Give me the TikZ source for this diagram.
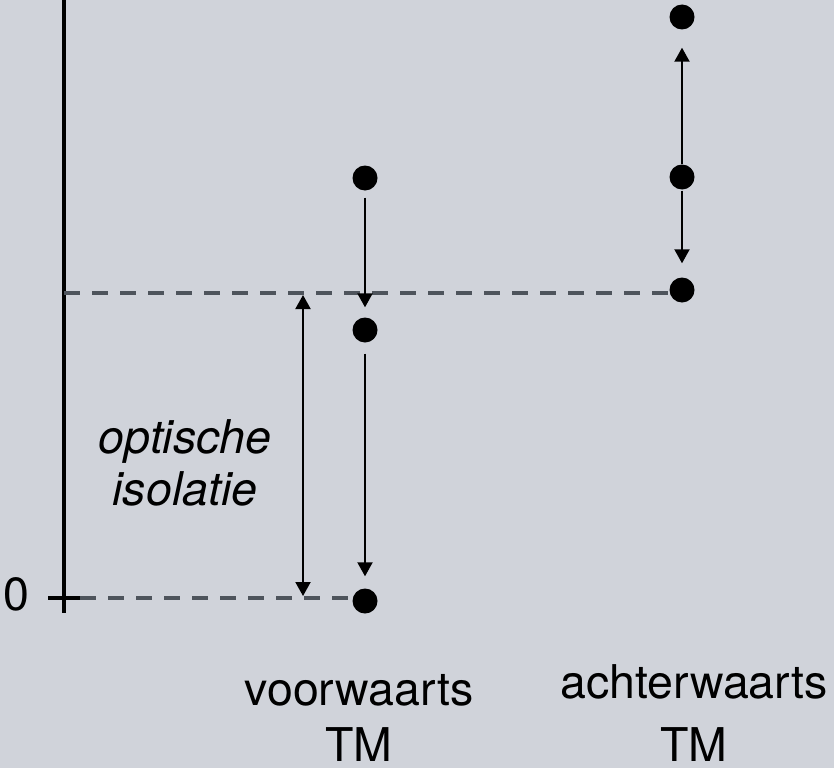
\documentclass[tikz,border=0pt]{standalone}
\usepackage{fontspec}
\setmainfont{TeX Gyre Heros}
\usetikzlibrary{arrows.meta}
\definecolor{bgcol}{RGB}{208,211,218}
\definecolor{dashcol}{RGB}{78,84,92}
\tikzset{
  dot/.style={circle, fill=black, minimum size=25pt, inner sep=0pt},
  lbl/.style={anchor=base, inner sep=0pt, font=\fontsize{46.5}{50}\selectfont},
  ilbl/.style={lbl, font=\fontsize{46.5}{50}\selectfont\itshape},
  arr/.style={line width=2pt, -{Triangle[width=15pt,length=14pt]}},
  biarr/.style={line width=2pt, {Triangle[width=15pt,length=14pt]}-{Triangle[width=15pt,length=14pt]}},
  level/.style={draw=dashcol, line width=4pt, dash pattern=on 16pt off 12pt},
  axisline/.style={line width=4pt}
}
\begin{document}
\begin{tikzpicture}[x=1pt, y=-1pt]
  % canvas
  \fill[bgcol] (0,0) rectangle (834,768);
  \useasboundingbox (0,0) rectangle (834,768);

  % vertical axis with zero tick
  \coordinate (axtop) at (64,0);
  \coordinate (axbot) at (64,613);
  \coordinate (tickl) at (48,598);
  \coordinate (tickr) at (80,598);
  \coordinate (axlev) at (64,293);
  \draw[axisline] (axtop) -- (axbot);
  \draw[axisline] (tickl) -- (tickr);
  \node[lbl] (zero) at (16.5,610) {0};

  % energy levels
  \node[dot] (f1) at (365,178) {};
  \node[dot] (f2) at (365,330) {};
  \node[dot] (f3) at (365,601) {};
  \node[dot] (b1) at (682,17) {};
  \node[dot] (b2) at (682,177) {};
  \node[dot] (b3) at (682,290) {};

  % dashed reference levels
  \draw[level] (tickr) -- (tickr -| f3.west);
  \draw[level] (axlev) -- (axlev -| b3.west);

  % transitions
  \draw[arr, shorten <=7pt, shorten >=10pt] (f1) -- (f2);
  \draw[arr, shorten <=11pt, shorten >=12pt] (f2) -- (f3);
  \draw[arr, shorten <=0pt, shorten >=18pt] (b2) -- (b1);
  \draw[arr, shorten <=1pt, shorten >=14pt] (b2) -- (b3);

  % optical isolation
  \coordinate (isotop) at (303,293);
  \coordinate (isobot) at (303,598);
  \draw[biarr, shorten <=2pt, shorten >=2pt] (isotop) -- (isobot);
  \node[ilbl] (opt) at (185,453) {optische};
  \node[ilbl] (iso) at (185,505) {isolatie};

  % column labels
  \node[lbl] (vw) at (359,705) {voorwaarts};
  \node[lbl] (vwtm) at (359,761) {TM};
  \node[lbl] (aw) at (694,698) {achterwaarts};
  \node[lbl] (awtm) at (694,761) {TM};
\end{tikzpicture}
\end{document}
